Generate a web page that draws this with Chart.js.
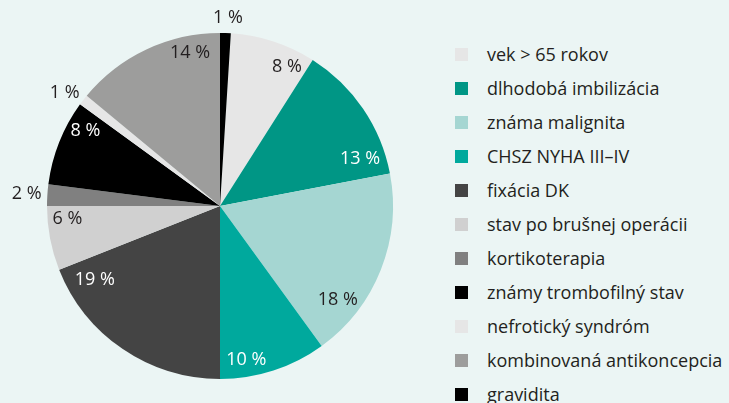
<!DOCTYPE html>
<html>
<head>
<meta charset="utf-8">
<script src="https://cdn.jsdelivr.net/npm/chart.js@4"></script>
<style>
  body { margin: 0; background: #ebf5f4; }
  #wrap { position: relative; width: 729px; height: 403px; overflow: hidden; }
  #chartBox { position: absolute; left: 0; top: 0; width: 440px; height: 403px; }
  #legend { position: absolute; left: 455px; top: 37px; margin: 0; padding: 0; list-style: none;
            font-family: "Open Sans", sans-serif; font-size: 18px; color: #231f20; }
  #legend li { height: 34px; display: flex; align-items: center; white-space: nowrap; }
  #legend span.box { width: 13px; height: 13px; margin-right: 19px; flex: none; }
</style>
</head>
<body>
<div id="wrap">
  <div id="chartBox"><canvas id="pieChart"></canvas></div>
  <ul id="legend"></ul>
</div>
<script>
// categories, in legend order
const categories = [
    "vek > 65 rokov",
    "dlhodobá imbilizácia",
    "známa malignita",
    "CHSZ NYHA III–IV",
    "fixácia DK",
    "stav po brušnej operácii",
    "kortikoterapia",
    "známy trombofilný stav",
    "nefrotický syndróm",
    "kombinovaná antikoncepcia",
    "gravidita"
];
// percentages
const shares = [8, 13, 18, 10, 19, 6, 2, 8, 1, 14, 1];
const sliceLabels = ["8 %", "13 %", "18 %", "10 %", "19 %", "6 %", "2 %", "8 %", "1 %", "14 %", "1 %"];

const colors = ["#e6e6e6", "#009685", "#a5d6d2", "#00a99d", "#444444", "#d0d0d0",
                "#808080", "#000000", "#e6e6e6", "#9d9d9c", "#000000"];
const labelColors = ["#231f20", "#ffffff", "#231f20", "#ffffff", "#ffffff", "#231f20",
                     "#231f20", "#ffffff", "#231f20", "#231f20", "#231f20"];
// where the label sits: fraction along the slice, and fraction of the radius
const labelFrac = [0.77, 0.83, 0.76, 0.73, 0.87, 0.77, 0.49, 0.76, 0.0, 0.78, 0.67];
const labelRad  = [0.89, 0.855, 0.87, 0.9, 0.84, 0.885, 1.12, 0.89, 1.11, 0.9, 1.09];

// draws the percentage labels on or next to each slice
const sliceText = {
    id: "sliceText",
    afterDatasetsDraw(chart) {
        const ctx = chart.ctx;
        const arcs = chart.getDatasetMeta(0).data;
        ctx.save();
        ctx.font = '18px "Open Sans", sans-serif';
        ctx.textAlign = "center";
        ctx.textBaseline = "middle";
        arcs.forEach((arc, i) => {
            const p = arc.getProps(["x", "y", "startAngle", "endAngle", "outerRadius"], true);
            const a = p.startAngle + labelFrac[i] * (p.endAngle - p.startAngle);
            const r = labelRad[i] * p.outerRadius;
            ctx.fillStyle = labelColors[i];
            ctx.fillText(sliceLabels[i], p.x + Math.cos(a) * r, p.y + Math.sin(a) * r);
        });
        ctx.restore();
    }
};

const chart = new Chart(document.getElementById("pieChart"), {
    type: "pie",
    data: {
        labels: categories,
        datasets: [{
            data: shares,
            backgroundColor: colors,
            borderWidth: 0
        }]
    },
    options: {
        responsive: true,
        maintainAspectRatio: false,
        animation: false,
        rotation: 3.6,
        radius: 173,
        layout: { padding: { top: 9, bottom: 0 } },
        plugins: {
            legend: { display: false },
            tooltip: { enabled: false }
        }
    },
    plugins: [sliceText]
});

// html legend on the right
const legend = document.getElementById("legend");
categories.forEach((name, i) => {
    const li = document.createElement("li");
    const box = document.createElement("span");
    box.className = "box";
    box.style.background = colors[i];
    li.appendChild(box);
    li.appendChild(document.createTextNode(name));
    legend.appendChild(li);
});
</script>
</body>
</html>
